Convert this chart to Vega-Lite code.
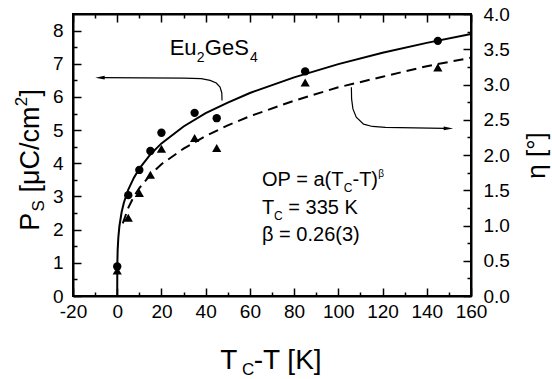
{
  "$schema": "https://vega.github.io/schema/vega-lite/v6.json",
  "width": 398,
  "height": 282,
  "autosize": "none",
  "padding": {"left": 73, "top": 14, "right": 81, "bottom": 83},
  "background": "white",
  "config": {
    "view": {"stroke": "black", "strokeWidth": 2},
    "font": "Liberation Sans",
    "text": {"font": "Liberation Sans", "color": "black"}
  },
  "datasets": {
    "ps_pts": [
      {"x": 0, "y": 0.89}, {"x": 5, "y": 3.04}, {"x": 10, "y": 3.80}, {"x": 15, "y": 4.37},
      {"x": 20, "y": 4.92}, {"x": 35, "y": 5.52}, {"x": 45, "y": 5.36}, {"x": 85, "y": 6.77},
      {"x": 145, "y": 7.69}
    ],
    "eta_pts": [
      {"x": 0, "y": 0.36}, {"x": 5, "y": 1.11}, {"x": 10, "y": 1.46}, {"x": 15, "y": 1.72},
      {"x": 20, "y": 2.09}, {"x": 35, "y": 2.24}, {"x": 45, "y": 2.10}, {"x": 85, "y": 3.03},
      {"x": 145, "y": 3.24}
    ],
    "ps_fit": [
      {"x": 0, "y": 0}, {"x": 0.05, "y": 0.97}, {"x": 0.2, "y": 1.39}, {"x": 0.5, "y": 1.76},
      {"x": 1, "y": 2.11}, {"x": 2, "y": 2.53}, {"x": 3, "y": 2.81}, {"x": 5, "y": 3.21},
      {"x": 7.5, "y": 3.56}, {"x": 10, "y": 3.84}, {"x": 15, "y": 4.27}, {"x": 20, "y": 4.60},
      {"x": 30, "y": 5.11}, {"x": 40, "y": 5.51}, {"x": 50, "y": 5.83}, {"x": 60, "y": 6.12},
      {"x": 80, "y": 6.59}, {"x": 100, "y": 6.99}, {"x": 120, "y": 7.33}, {"x": 140, "y": 7.63},
      {"x": 160, "y": 7.90}
    ],
    "eta_fit": [
      {"x": 2.5, "y": 1.03}, {"x": 5, "y": 1.25}, {"x": 7.5, "y": 1.41}, {"x": 10, "y": 1.53},
      {"x": 15, "y": 1.72}, {"x": 20, "y": 1.87}, {"x": 30, "y": 2.09}, {"x": 40, "y": 2.27},
      {"x": 50, "y": 2.42}, {"x": 60, "y": 2.55}, {"x": 80, "y": 2.77}, {"x": 100, "y": 2.96},
      {"x": 120, "y": 3.11}, {"x": 140, "y": 3.26}, {"x": 160, "y": 3.38}
    ],
    "arrows": [
      {"id": "L", "o": 1, "x": -6.5, "y": 6.58}, {"id": "L", "o": 2, "x": 30, "y": 6.57},
      {"id": "L", "o": 3, "x": 38, "y": 6.55}, {"id": "L", "o": 4, "x": 42, "y": 6.50},
      {"id": "L", "o": 5, "x": 44.8, "y": 6.42}, {"id": "L", "o": 6, "x": 46.5, "y": 6.30},
      {"id": "L", "o": 7, "x": 47.3, "y": 6.12}, {"id": "L", "o": 8, "x": 47.4, "y": 5.89},
      {"id": "R", "o": 1, "x": 105.9, "y": 6.29}, {"id": "R", "o": 2, "x": 106.0, "y": 5.94},
      {"id": "R", "o": 3, "x": 106.6, "y": 5.64}, {"id": "R", "o": 4, "x": 108.1, "y": 5.39},
      {"id": "R", "o": 5, "x": 111.4, "y": 5.18}, {"id": "R", "o": 6, "x": 115.4, "y": 5.11},
      {"id": "R", "o": 7, "x": 121.3, "y": 5.08}, {"id": "R", "o": 8, "x": 148, "y": 5.05}
    ],
    "heads": [
      {"dir": "left", "x": -7.8, "y": 6.58},
      {"dir": "right", "x": 149.8, "y": 5.05}
    ],
    "labels": [
      {"t": "Eu", "x": 23.7, "y": 7.25, "role": "eu"},
      {"t": "2", "x": 36.0, "y": 7.25, "role": "eu_sub"},
      {"t": "GeS", "x": 39.6, "y": 7.25, "role": "eu"},
      {"t": "4", "x": 60.0, "y": 7.25, "role": "eu_sub"},
      {"t": "OP = a(T", "x": 65.5, "y": 3.31, "role": "ann"},
      {"t": "C", "x": 102.4, "y": 3.31, "role": "ann_sub"},
      {"t": "-T)", "x": 106.4, "y": 3.31, "role": "ann"},
      {"t": "β", "x": 118.0, "y": 3.31, "role": "ann_sup"},
      {"t": "T", "x": 65.5, "y": 2.48, "role": "ann"},
      {"t": "C", "x": 70.9, "y": 2.48, "role": "ann_sub"},
      {"t": "= 335 K", "x": 77.4, "y": 2.48, "role": "ann"},
      {"t": "β = 0.26(3)", "x": 65.5, "y": 1.67, "role": "ann"},
      {"t": "T", "x": 46.6, "y": -2.19, "role": "xt"},
      {"t": "C", "x": 56.4, "y": -2.19, "role": "xt_sub"},
      {"t": "-T [K]", "x": 61.7, "y": -2.19, "role": "xt"},
      {"t": "P", "x": -35.3, "y": 1.97, "role": "yt"},
      {"t": "S", "x": -35.3, "y": 2.55, "role": "yt_sub"},
      {"t": "[μC/cm", "x": -35.3, "y": 3.12, "role": "yt"},
      {"t": "2", "x": -35.3, "y": 5.72, "role": "yt_sup"},
      {"t": "]", "x": -35.3, "y": 6.01, "role": "yt"}
    ]
  },
  "layer": [
    {
      "encoding": {
        "x": {
          "field": "x", "type": "quantitative",
          "scale": {"domain": [-20, 160], "nice": false, "zero": false},
          "axis": {
            "orient": "bottom", "title": null, "grid": false,
            "values": [-20, 0, 20, 40, 60, 80, 100, 120, 140, 160],
            "labelExpr": "datum.value < 0 ? '-' + abs(datum.value) : datum.label",
            "tickSize": -8, "tickColor": "black", "tickWidth": 1.5,
            "domainColor": "black", "domainWidth": 2,
            "labelFont": "Liberation Sans", "labelFontSize": 19, "labelColor": "black",
            "labelPadding": 14, "labelFlush": false, "labelOverlap": false
          }
        },
        "y": {
          "field": "y", "type": "quantitative",
          "scale": {"domain": [0, 8.5], "nice": false, "zero": false},
          "axis": {
            "orient": "left", "title": null, "grid": false,
            "values": [0, 1, 2, 3, 4, 5, 6, 7, 8],
            "format": ".0f",
            "tickSize": -8, "tickColor": "black", "tickWidth": 1.5,
            "domainColor": "black", "domainWidth": 2,
            "labelFont": "Liberation Sans", "labelFontSize": 19, "labelColor": "black",
            "labelPadding": 18, "labelFlush": false, "labelOverlap": false
          }
        }
      },
      "layer": [
        {"data": {"name": "ps_fit"}, "mark": {"type": "line", "color": "black", "strokeWidth": 2}},
        {
          "data": {"name": "arrows"},
          "mark": {"type": "line", "color": "black", "strokeWidth": 1.2},
          "encoding": {"detail": {"field": "id"}, "order": {"field": "o", "type": "quantitative"}}
        },
        {
          "data": {"name": "heads"},
          "mark": {"type": "point", "filled": true, "color": "black", "opacity": 1, "size": 90},
          "encoding": {
            "shape": {
              "field": "dir", "type": "nominal", "legend": null,
              "scale": {"domain": ["left", "right"], "range": ["M -1 0 L 1 -0.4 L 1 0.4 Z", "M 1 0 L -1 -0.4 L -1 0.4 Z"]}
            }
          }
        },
        {
          "data": {"name": "labels"},
          "transform": [{"filter": "datum.role === 'eu'"}],
          "mark": {"type": "text", "align": "left", "baseline": "alphabetic", "fontSize": 22, "font": "Liberation Sans"},
          "encoding": {"text": {"field": "t"}}
        },
        {
          "data": {"name": "labels"},
          "transform": [{"filter": "datum.role === 'eu_sub'"}],
          "mark": {"type": "text", "align": "left", "baseline": "alphabetic", "fontSize": 14, "dy": 7, "font": "Liberation Sans"},
          "encoding": {"text": {"field": "t"}}
        },
        {
          "data": {"name": "labels"},
          "transform": [{"filter": "datum.role === 'ann'"}],
          "mark": {"type": "text", "align": "left", "baseline": "alphabetic", "fontSize": 20, "font": "Liberation Sans"},
          "encoding": {"text": {"field": "t"}}
        },
        {
          "data": {"name": "labels"},
          "transform": [{"filter": "datum.role === 'ann_sub'"}],
          "mark": {"type": "text", "align": "left", "baseline": "alphabetic", "fontSize": 12, "dy": 6, "font": "Liberation Sans"},
          "encoding": {"text": {"field": "t"}}
        },
        {
          "data": {"name": "labels"},
          "transform": [{"filter": "datum.role === 'ann_sup'"}],
          "mark": {"type": "text", "align": "left", "baseline": "alphabetic", "fontSize": 10, "dy": -9, "font": "Liberation Sans"},
          "encoding": {"text": {"field": "t"}}
        },
        {
          "data": {"name": "labels"},
          "transform": [{"filter": "datum.role === 'xt'"}],
          "mark": {"type": "text", "align": "left", "baseline": "alphabetic", "fontSize": 28, "font": "Liberation Sans"},
          "encoding": {"text": {"field": "t"}}
        },
        {
          "data": {"name": "labels"},
          "transform": [{"filter": "datum.role === 'xt_sub'"}],
          "mark": {"type": "text", "align": "left", "baseline": "alphabetic", "fontSize": 17, "dy": 6, "font": "Liberation Sans"},
          "encoding": {"text": {"field": "t"}}
        },
        {
          "data": {"name": "labels"},
          "transform": [{"filter": "datum.role === 'yt'"}],
          "mark": {"type": "text", "align": "left", "baseline": "alphabetic", "fontSize": 27, "angle": 270, "font": "Liberation Sans"},
          "encoding": {"text": {"field": "t"}}
        },
        {
          "data": {"name": "labels"},
          "transform": [{"filter": "datum.role === 'yt_sub'"}],
          "mark": {"type": "text", "align": "left", "baseline": "alphabetic", "fontSize": 17, "angle": 270, "dy": 5, "font": "Liberation Sans"},
          "encoding": {"text": {"field": "t"}}
        },
        {
          "data": {"name": "labels"},
          "transform": [{"filter": "datum.role === 'yt_sup'"}],
          "mark": {"type": "text", "align": "left", "baseline": "alphabetic", "fontSize": 17, "angle": 270, "dy": -12, "font": "Liberation Sans"},
          "encoding": {"text": {"field": "t"}}
        }
      ]
    },
    {
      "encoding": {
        "x": {
          "field": "x", "type": "quantitative",
          "scale": {"domain": [-20, 160], "nice": false, "zero": false},
          "axis": {
            "orient": "top", "title": null, "grid": false, "labels": false,
            "values": [-20, 0, 20, 40, 60, 80, 100, 120, 140, 160],
            "tickSize": -8, "tickColor": "black", "tickWidth": 1.5,
            "domainColor": "black", "domainWidth": 2
          }
        },
        "y": {
          "field": "y", "type": "quantitative",
          "scale": {"domain": [0, 4], "nice": false, "zero": false},
          "axis": {
            "orient": "right", "title": "η [°]", "grid": false,
            "values": [0, 0.5, 1, 1.5, 2, 2.5, 3, 3.5, 4],
            "format": ".1f",
            "tickSize": -8, "tickColor": "black", "tickWidth": 1.5,
            "domainColor": "black", "domainWidth": 2,
            "labelFont": "Liberation Sans", "labelFontSize": 19, "labelColor": "black",
            "labelPadding": 20, "labelFlush": false, "labelOverlap": false,
            "titleFont": "Liberation Sans", "titleFontSize": 26, "titleFontWeight": "normal",
            "titleColor": "black", "titleAngle": 270, "titlePadding": 40
          }
        }
      },
      "layer": [
        {"data": {"name": "eta_fit"}, "mark": {"type": "line", "color": "black", "strokeWidth": 2, "strokeDash": [10, 6]}}
      ]
    },
    {
      "encoding": {
        "x": {
          "field": "x", "type": "quantitative",
          "scale": {"domain": [-20, 160], "nice": false, "zero": false},
          "axis": {
            "orient": "bottom", "title": null, "grid": false, "labels": false, "domain": false,
            "values": [-10, 10, 30, 50, 70, 90, 110, 130, 150],
            "tickSize": -4, "tickColor": "black", "tickWidth": 1.5
          }
        },
        "y": {
          "field": "y", "type": "quantitative",
          "scale": {"domain": [0, 8.5], "nice": false, "zero": false},
          "axis": {
            "orient": "left", "title": null, "grid": false, "labels": false, "domain": false,
            "values": [0.5, 1.5, 2.5, 3.5, 4.5, 5.5, 6.5, 7.5],
            "tickSize": -4, "tickColor": "black", "tickWidth": 1.5
          }
        }
      },
      "layer": [
        {"data": {"name": "ps_pts"}, "mark": {"type": "circle", "color": "black", "opacity": 1, "size": 70}}
      ]
    },
    {
      "encoding": {
        "x": {
          "field": "x", "type": "quantitative",
          "scale": {"domain": [-20, 160], "nice": false, "zero": false},
          "axis": {
            "orient": "top", "title": null, "grid": false, "labels": false, "domain": false,
            "values": [-10, 10, 30, 50, 70, 90, 110, 130, 150],
            "tickSize": -4, "tickColor": "black", "tickWidth": 1.5
          }
        },
        "y": {
          "field": "y", "type": "quantitative",
          "scale": {"domain": [0, 4], "nice": false, "zero": false},
          "axis": {
            "orient": "right", "title": null, "grid": false, "labels": false, "domain": false,
            "values": [0.25, 0.75, 1.25, 1.75, 2.25, 2.75, 3.25, 3.75],
            "tickSize": -4, "tickColor": "black", "tickWidth": 1.5
          }
        }
      },
      "layer": [
        {"data": {"name": "eta_pts"}, "mark": {"type": "point", "shape": "triangle-up", "filled": true, "color": "black", "opacity": 1, "size": 85}}
      ]
    }
  ],
  "resolve": {"scale": {"y": "independent"}, "axis": {"x": "independent"}}
}
